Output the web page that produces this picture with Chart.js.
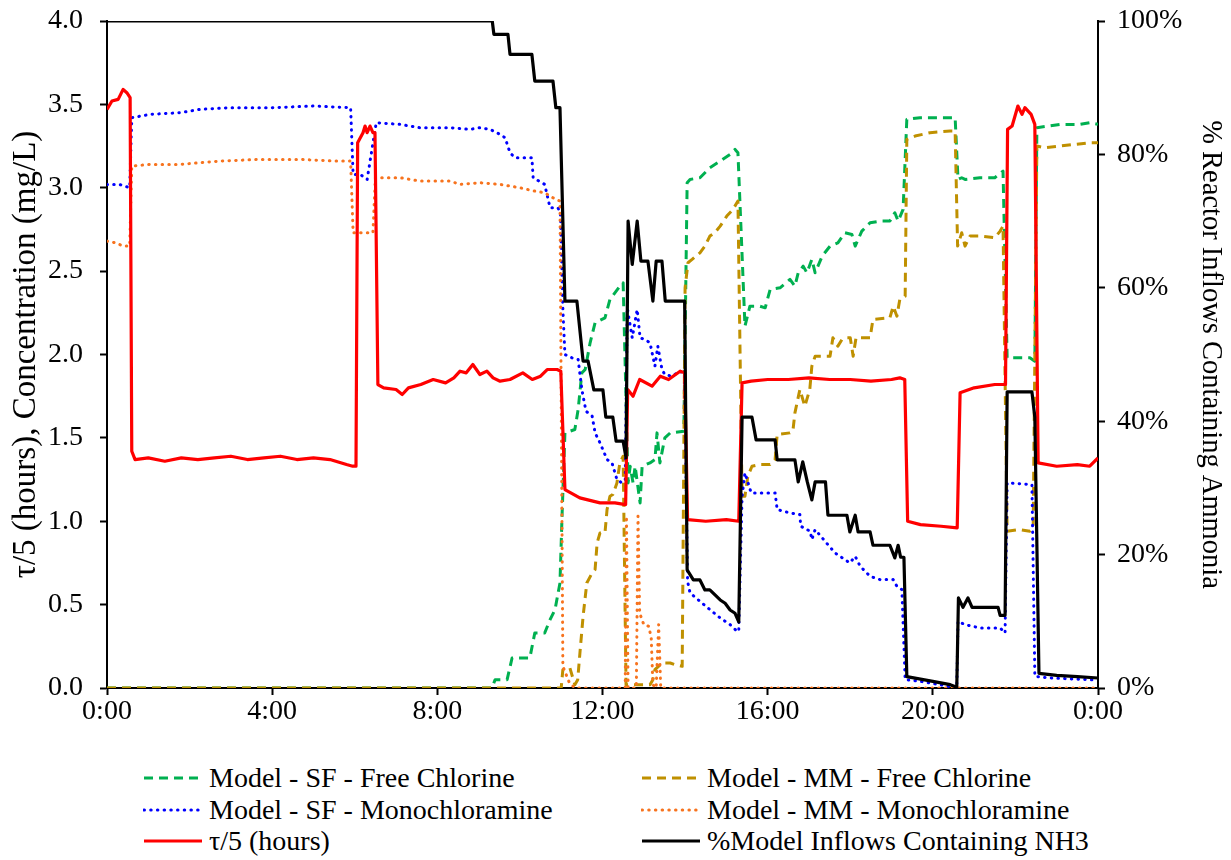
<!DOCTYPE html>
<html><head><meta charset="utf-8">
<script src="https://cdn.jsdelivr.net/npm/chart.js@4.4.1/dist/chart.umd.min.js"></script>
<style>
html,body{margin:0;padding:0;background:#fff;}
#wrap{position:relative;width:1231px;height:860px;font-family:"Liberation Serif","Times New Roman",Times,serif;overflow:hidden;}
#chartBox{position:absolute;left:0;top:0;width:1231px;height:740px;}
.leg{position:absolute;display:flex;align-items:center;font-size:28px;color:#000;white-space:nowrap;height:30px;}
.leg svg{flex:none;}
</style></head><body>
<div id="wrap"><div id="chartBox"><canvas id="c"></canvas></div><div id="legend"></div></div>
<script>
// ---- tick labels ----
const xTickValues = [0, 4, 8, 12, 16, 20, 24];
const xTickLabels = ['0:00', '4:00', '8:00', '12:00', '16:00', '20:00', '0:00'];
const leftTickValues = [0, 0.5, 1, 1.5, 2, 2.5, 3, 3.5, 4];
const leftTickLabels = ['0.0', '0.5', '1.0', '1.5', '2.0', '2.5', '3.0', '3.5', '4.0'];
const rightTickValues = [0, 20, 40, 60, 80, 100];
const rightTickLabels = ['0%', '20%', '40%', '60%', '80%', '100%'];

// ---- series names ----
const seriesNames = ['Model - SF - Free Chlorine', 'Model - MM - Free Chlorine', 'Model - SF - Monochloramine',
  'Model - MM - Monochloramine', 'τ/5 (hours)', '%Model Inflows Containing NH3'];

// ---- series data (time in hours, values) ----
const sfFreeT = [0,9.32,9.40,9.69,9.81,10.24,10.36,10.60,10.73,10.85,10.97,11.02,11.09,11.33,11.41,11.50,11.58,11.70,11.82,12.06,12.18,12.42,12.50,12.62,12.67,12.74,12.79,12.91,12.96,13.15,13.27,13.32,13.39,13.51,13.64,13.97,14.05,14.12,14.36,14.60,14.85,15.09,15.21,15.28,15.45,15.57,15.81,15.94,16.06,16.30,16.54,16.66,16.74,16.86,16.95,17.07,17.15,17.32,17.51,17.70,17.87,18.04,18.12,18.28,18.48,18.72,18.96,19.08,19.16,19.28,19.37,19.69,20.05,20.54,20.61,20.70,20.78,21.14,21.50,21.70,21.80,22.35,22.47,22.52,23.08,23.56,23.80,24.0];
const sfFreeV = [0,0,0.05,0.05,0.18,0.18,0.33,0.33,0.41,0.47,0.63,1.03,1.53,1.55,1.67,1.89,1.91,2.07,2.19,2.22,2.33,2.41,2.43,1.23,1.33,1.23,1.33,1.11,1.33,1.35,1.37,1.53,1.35,1.50,1.53,1.54,3.03,3.05,3.06,3.12,3.16,3.20,3.23,3.21,2.17,2.29,2.29,2.28,2.39,2.40,2.45,2.41,2.49,2.53,2.49,2.57,2.49,2.59,2.65,2.67,2.73,2.72,2.65,2.74,2.79,2.80,2.80,2.85,2.80,2.87,3.41,3.42,3.42,3.42,3.05,3.06,3.05,3.06,3.06,3.10,1.98,1.98,1.96,3.36,3.38,3.38,3.39,3.38];

const mmFreeT = [0,11.00,11.04,11.21,11.33,11.40,11.46,11.53,11.62,11.75,11.82,11.87,11.94,12.06,12.11,12.18,12.25,12.35,12.42,12.50,12.57,13.15,13.22,13.27,13.44,13.64,13.76,13.93,14.00,14.07,14.17,14.36,14.48,14.60,14.72,14.85,15.01,15.16,15.28,15.38,15.45,15.52,15.62,15.81,16.06,16.18,16.23,16.54,16.61,16.66,16.78,16.90,17.02,17.07,17.15,17.51,17.58,17.70,17.80,17.92,18.00,18.07,18.14,18.48,18.55,18.96,19.04,19.13,19.20,19.33,19.37,19.57,19.93,20.42,20.54,20.60,20.70,20.78,20.90,21.14,21.50,21.63,21.70,21.80,22.10,22.35,22.43,22.52,22.72,23.08,23.44,23.80,24.0];
const mmFreeV = [0,0,0.11,0.12,0.02,0.05,0.23,0.43,0.63,0.69,0.71,0.87,0.93,0.93,1.07,1.15,1.16,1.23,1.35,1.39,0.02,0.02,0.05,0.11,0.15,0.15,0.14,0.13,2.40,2.55,2.57,2.61,2.65,2.71,2.73,2.77,2.83,2.87,2.92,1.15,1.15,1.27,1.33,1.34,1.34,1.37,1.52,1.53,1.54,1.65,1.79,1.69,1.79,1.93,1.99,1.99,2.10,2.05,2.09,2.10,2.10,1.99,2.10,2.10,2.21,2.22,2.29,2.23,2.33,2.35,3.29,3.31,3.33,3.34,3.34,2.65,2.73,2.65,2.71,2.71,2.70,2.74,2.77,0.94,0.95,0.94,0.96,3.25,3.24,3.25,3.26,3.27,3.27];

const sfMonoT = [0,0.3,0.55,0.6,1.04,1.77,2.25,2.98,4.0,5.0,5.9,5.96,6.13,6.30,6.52,7.1,7.58,8.31,8.79,9.03,9.28,9.52,9.64,9.76,9.88,10.29,10.32,10.6,10.73,10.92,10.98,11.04,11.09,11.26,11.41,11.50,11.60,11.75,11.82,11.94,12.11,12.23,12.35,12.47,12.55,12.60,12.72,12.84,12.91,13.03,13.15,13.27,13.34,13.44,13.51,13.68,13.88,13.99,14.06,14.12,14.36,14.60,14.85,15.09,15.26,15.30,15.38,15.45,15.60,16.18,16.23,16.54,16.78,16.80,17.03,17.07,17.15,17.39,17.63,17.99,18.12,18.24,18.48,18.72,19.04,19.13,19.25,19.33,19.70,20.17,20.58,20.61,20.78,21.14,21.63,21.75,21.80,22.40,22.47,22.84,23.80,24.0];
const sfMonoV = [3.02,3.02,3.00,3.42,3.44,3.45,3.47,3.48,3.48,3.49,3.48,3.08,3.08,3.05,3.39,3.38,3.36,3.36,3.35,3.36,3.35,3.32,3.30,3.21,3.18,3.18,3.06,3.02,2.88,2.88,2.85,2.27,2.00,1.98,1.97,1.79,1.66,1.63,1.53,1.47,1.37,1.35,1.25,1.23,1.25,2.28,2.10,2.27,2.10,2.09,2.07,1.93,2.05,1.91,1.88,1.87,1.90,1.88,0.64,0.57,0.52,0.47,0.42,0.38,0.34,0.34,1.15,1.29,1.17,1.17,1.07,1.05,1.04,0.97,0.94,0.89,0.95,0.88,0.81,0.75,0.79,0.73,0.67,0.65,0.65,0.61,0.59,0.05,0.04,0.02,0.00,0.40,0.38,0.36,0.36,0.33,1.23,1.22,0.07,0.06,0.05,0.05];

const mmMonoT = [0,0.2,0.4,0.55,0.6,1.04,1.77,2.25,2.74,3.7,4.67,5.5,5.9,5.96,6.13,6.44,6.5,7.1,7.58,8.31,8.55,9.03,9.52,10.0,10.36,10.6,10.8,10.97,11.04,11.2,11.33,12.55,12.58,12.62,12.82,12.86,12.90,13.0,13.12,13.18,13.22,13.30,13.36,13.41,24];
const mmMonoV = [2.68,2.67,2.65,2.65,3.13,3.14,3.14,3.15,3.16,3.17,3.17,3.16,3.16,2.73,2.73,2.73,3.06,3.06,3.04,3.04,3.02,3.03,3.02,3.00,2.98,2.97,2.94,2.92,0.13,0.03,0,0,1.03,0,0,1.03,0.45,0.38,0.37,0.30,0.02,0,0.38,0,0];

const tauT = [0,0.12,0.27,0.39,0.48,0.56,0.60,0.68,1.0,1.4,1.8,2.2,2.6,3.0,3.4,3.8,4.2,4.6,5.0,5.4,5.8,5.95,6.03,6.07,6.2,6.25,6.3,6.37,6.44,6.49,6.56,6.7,7.0,7.15,7.3,7.6,7.9,8.2,8.4,8.55,8.7,8.86,9.03,9.2,9.35,9.52,9.76,10.07,10.3,10.5,10.66,10.9,10.99,11.09,11.45,11.94,12.3,12.56,12.61,12.74,12.9,13.2,13.4,13.6,13.88,13.99,14.06,14.5,15.0,15.3,15.38,15.6,16.0,16.5,17.0,17.5,18.0,18.5,19.0,19.2,19.32,19.39,19.7,20.2,20.59,20.66,21.0,21.5,21.76,21.81,21.92,22.06,22.16,22.23,22.38,22.47,22.55,23.0,23.5,23.8,24.0];
const tauV = [3.47,3.52,3.53,3.59,3.57,3.54,1.42,1.37,1.38,1.36,1.38,1.37,1.38,1.39,1.37,1.38,1.39,1.37,1.38,1.37,1.34,1.33,1.33,3.27,3.33,3.37,3.33,3.37,3.33,3.33,1.82,1.80,1.79,1.76,1.80,1.82,1.85,1.83,1.86,1.90,1.89,1.94,1.88,1.90,1.86,1.84,1.85,1.89,1.85,1.87,1.91,1.91,1.90,1.19,1.14,1.11,1.11,1.10,1.79,1.75,1.85,1.81,1.87,1.85,1.90,1.89,1.01,1.00,1.01,1.00,1.83,1.84,1.85,1.85,1.86,1.85,1.85,1.84,1.85,1.86,1.85,1.00,0.98,0.97,0.96,1.77,1.80,1.82,1.82,3.35,3.37,3.49,3.44,3.48,3.44,3.38,1.35,1.33,1.34,1.33,1.38];

const nh3T = [0,9.33,9.37,9.71,9.76,10.29,10.36,10.80,10.87,10.97,11.09,11.38,11.53,11.65,11.79,12.01,12.08,12.25,12.33,12.50,12.57,12.62,12.72,12.84,12.93,13.10,13.22,13.30,13.44,13.52,13.99,14.05,14.20,14.36,14.48,14.60,14.85,14.97,15.09,15.21,15.30,15.38,15.62,15.72,16.18,16.23,16.66,16.74,16.85,16.96,17.07,17.15,17.40,17.46,17.92,17.99,18.12,18.19,18.48,18.55,18.96,19.08,19.16,19.22,19.30,19.37,20.0,20.42,20.58,20.62,20.73,20.85,20.95,21.58,21.63,21.75,21.80,22.40,22.47,22.57,23.0,23.5,24.0];
const nh3V = [100,100,98,98,95,95,91,91,87,87,58,58,49,49,44.7,44.7,40.6,40.6,37,37,34.5,70,63.5,70,64,64,58,64,64,58,58,17.7,16.2,16.2,14.7,14.7,13.2,12.7,11.7,11.2,9.9,40.6,40.6,37.2,37.2,34.2,34.2,30.9,33.9,30.9,28.2,30.9,30.9,25.9,25.9,23.4,25.9,23.4,23.4,21.4,21.4,19.5,21.4,19.6,19.6,1.7,1.0,0.5,0.1,13.5,12.1,13.5,12.1,12.1,10.9,10.9,44.4,44.4,40.6,2.2,1.9,1.7,1.5];

// ---- build ----
const pts = (t, v) => t.map((x, i) => ({x: x, y: v[i]}));
const FONT = '"Liberation Serif", "Times New Roman", Times, serif';
const TICK = 28;
const styles = [
  {color: '#00B050', dash: [9, 6], width: 3, cap: 'butt', axis: 'y', order: 6},
  {color: '#BF9000', dash: [9, 6], width: 3, cap: 'butt', axis: 'y', order: 5},
  {color: '#0000FF', dash: [0.5, 6.2], width: 3, cap: 'round', axis: 'y', order: 4},
  {color: '#F7731E', dash: [0.5, 6.2], width: 3, cap: 'round', axis: 'y', order: 3},
  {color: '#FF0000', dash: [], width: 3.2, cap: 'butt', axis: 'y', order: 2},
  {color: '#000000', dash: [], width: 3.2, cap: 'butt', axis: 'y2', order: 1}
];
const seriesData = [pts(sfFreeT, sfFreeV), pts(mmFreeT, mmFreeV), pts(sfMonoT, sfMonoV),
  pts(mmMonoT, mmMonoV), pts(tauT, tauV), pts(nh3T, nh3V)];

const datasets = seriesNames.map((name, i) => ({
  label: name, data: seriesData[i], yAxisID: styles[i].axis,
  borderColor: styles[i].color, backgroundColor: styles[i].color,
  borderWidth: styles[i].width, borderDash: styles[i].dash, borderCapStyle: styles[i].cap,
  borderJoinStyle: 'round', pointRadius: 0, pointHoverRadius: 0, tension: 0, fill: false, order: styles[i].order
}));

const axisCommon = {
  grid: {display: true, drawOnChartArea: false, drawTicks: true, tickLength: 7, tickColor: '#000', tickWidth: 2},
  border: {display: true, color: '#000', width: 2}
};
const noPad = s => { s.paddingTop = 0; s.paddingBottom = 0; };

new Chart(document.getElementById('c'), {
  type: 'line',
  data: {datasets},
  options: {
    responsive: true, maintainAspectRatio: false, animation: false,
    layout: {padding: {top: 21, left: 0, right: 0, bottom: 0}},
    plugins: {legend: {display: false}, tooltip: {enabled: false}},
    scales: {
      x: Object.assign({}, axisCommon, {
        type: 'linear', min: 0, max: 24,
        afterBuildTicks: s => { s.ticks = xTickValues.map(v => ({value: v})); },
        afterFit: s => { s.height = 52; },
        ticks: {autoSkip: false, maxRotation: 0, padding: 0, color: '#000', font: {family: FONT, size: TICK},
          callback: (v, i) => xTickLabels[i]}
      }),
      y: Object.assign({}, axisCommon, {
        position: 'left', min: 0, max: 4,
        afterBuildTicks: s => { s.ticks = leftTickValues.map(v => ({value: v})); },
        afterFit: s => { s.width = 107; noPad(s); },
        ticks: {padding: 17, color: '#000', font: {family: FONT, size: TICK}, callback: (v, i) => leftTickLabels[i]},
        title: {display: true, text: 'τ/5 (hours), Concentration (mg/L)', color: '#000',
          font: {family: FONT, size: 33}, padding: {top: 7, bottom: 0}}
      }),
      y2: Object.assign({}, axisCommon, {
        position: 'right', min: 0, max: 100,
        afterBuildTicks: s => { s.ticks = rightTickValues.map(v => ({value: v})); },
        afterFit: s => { s.width = 133; noPad(s); },
        ticks: {padding: 12, color: '#000', font: {family: FONT, size: TICK}, callback: (v, i) => rightTickLabels[i]},
        title: {display: true, text: '% Reactor Inflows Containing Ammonia', color: '#000',
          font: {family: FONT, size: 28.5}, padding: {top: 3, bottom: 0}}
      })
    }
  }
});

// ---- HTML legend (two columns x three rows) ----
const legPos = [[143, 778], [641, 778], [143, 810], [641, 810], [143, 841], [641, 841]];
const legend = document.getElementById('legend');
seriesNames.forEach((name, i) => {
  const st = styles[i];
  const d = document.createElement('div');
  d.className = 'leg';
  d.style.left = legPos[i][0] + 'px';
  d.style.top = (legPos[i][1] - 15) + 'px';
  const dash = st.dash.length ? st.dash.join(',') : 'none';
  d.innerHTML = '<svg width="66" height="10"><line x1="1" y1="5" x2="59" y2="5" stroke="' + st.color +
    '" stroke-width="' + st.width + '" stroke-dasharray="' + dash + '" stroke-linecap="' + st.cap + '"/></svg>';
  const s = document.createElement('span');
  s.textContent = name;
  d.appendChild(s);
  legend.appendChild(d);
});
</script>
</body></html>
